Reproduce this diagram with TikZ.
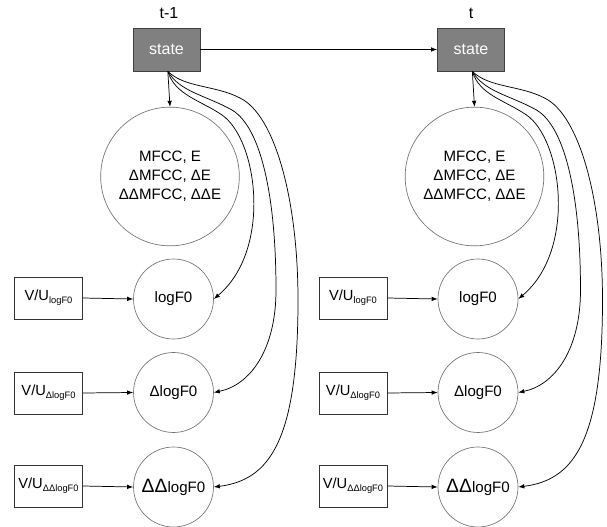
\documentclass[tikz,border=0pt]{standalone}
\usepackage{fontspec}
\setmainfont{Liberation Sans}
\usetikzlibrary{arrows.meta}
\begin{document}
\begin{tikzpicture}[x=0.75pt,y=-0.75pt,
  every node/.style={font=\fontsize{11}{14.2}\selectfont},
  statebox/.style={draw=black!75, fill=black!50, text=white, minimum width=50.25pt, minimum height=32.25pt, inner sep=0pt, line width=0.6pt, font=\fontsize{12}{14}\selectfont},
  bigcirc/.style={circle, draw=black!55, minimum size=104pt, inner sep=0pt, align=center, line width=0.5pt, font=\fontsize{11.3}{14.2}\selectfont},
  smallcirc/.style={circle, draw=black!55, minimum size=60pt, inner sep=0pt, line width=0.5pt, font=\fontsize{11.3}{14}\selectfont},
  vubox/.style={draw=black!80, minimum width=51pt, minimum height=31.5pt, inner sep=0pt, line width=0.5pt},
  conn/.style={-{Latex[length=4.5pt,width=3.4pt]}, line width=0.55pt},
  curve/.style={-{Latex[length=4.5pt,width=3.4pt]}, line width=0.55pt}
]
\useasboundingbox (0,0) rectangle (607,527);
\newcommand{\vusub}[1]{V/U\raisebox{-2.2pt}{\fontsize{7}{8}\selectfont #1}}
\node (tL) at (169,13) {\fontsize{12}{14}\selectfont t-1};
\node (tR) at (471,13) {\fontsize{12}{14}\selectfont t};
\foreach \p/\d in {L/0,R/304.5} {
  \node[statebox] (s\p) at (166.5+\d,49.5) {state};
  \node[bigcirc] (c\p) at (170+\d,176.5) {MFCC, E\\ΔMFCC, ΔE\\ΔΔMFCC, ΔΔE};
  \node[smallcirc] (a\p) at (173.5+\d,299) {logF0};
  \node[smallcirc] (b\p) at (173.5+\d,392.5) {ΔlogF0};
  \node[smallcirc] (d\p) at (173.5+\d,487) {{\fontsize{14.5}{16}\selectfont ΔΔ}logF0};
  \node[vubox] (va\p) at (48.5+\d,298) {\vusub{logF0}};
  \node[vubox] (vb\p) at (48.5+\d,393) {\vusub{ΔlogF0}};
  \node[vubox] (vd\p) at (48.5+\d,486) {\vusub{ΔΔlogF0}};
  \draw[conn] (va\p.east) -- (a\p.west);
  \draw[conn] (vb\p.east) -- (b\p.west);
  \draw[conn] (vd\p.east) -- (d\p.west);
  \draw[conn] ([xshift=1pt]s\p.south) -- (c\p.north);
  \draw[curve] ([xshift=1pt]s\p.south) .. controls (175+\d,95) and (200+\d,100) .. (222+\d,115)
     .. controls (258+\d,140) and (272+\d,250) .. (a\p.east);
  \draw[curve] ([xshift=1pt]s\p.south) .. controls (180+\d,92) and (205+\d,95) .. (232+\d,110)
     .. controls (262+\d,128) and (276+\d,200) .. (276+\d,290)
     .. controls (276+\d,350) and (250+\d,385) .. (b\p.east);
  \draw[curve] ([xshift=1pt]s\p.south) .. controls (185+\d,88) and (215+\d,85) .. (240+\d,98)
     .. controls (275+\d,115) and (298+\d,200) .. (298+\d,300)
     .. controls (298+\d,440) and (270+\d,480) .. (d\p.east);
}
\draw[conn] (sL.east) -- (sR.west);
\end{tikzpicture}
\end{document}
